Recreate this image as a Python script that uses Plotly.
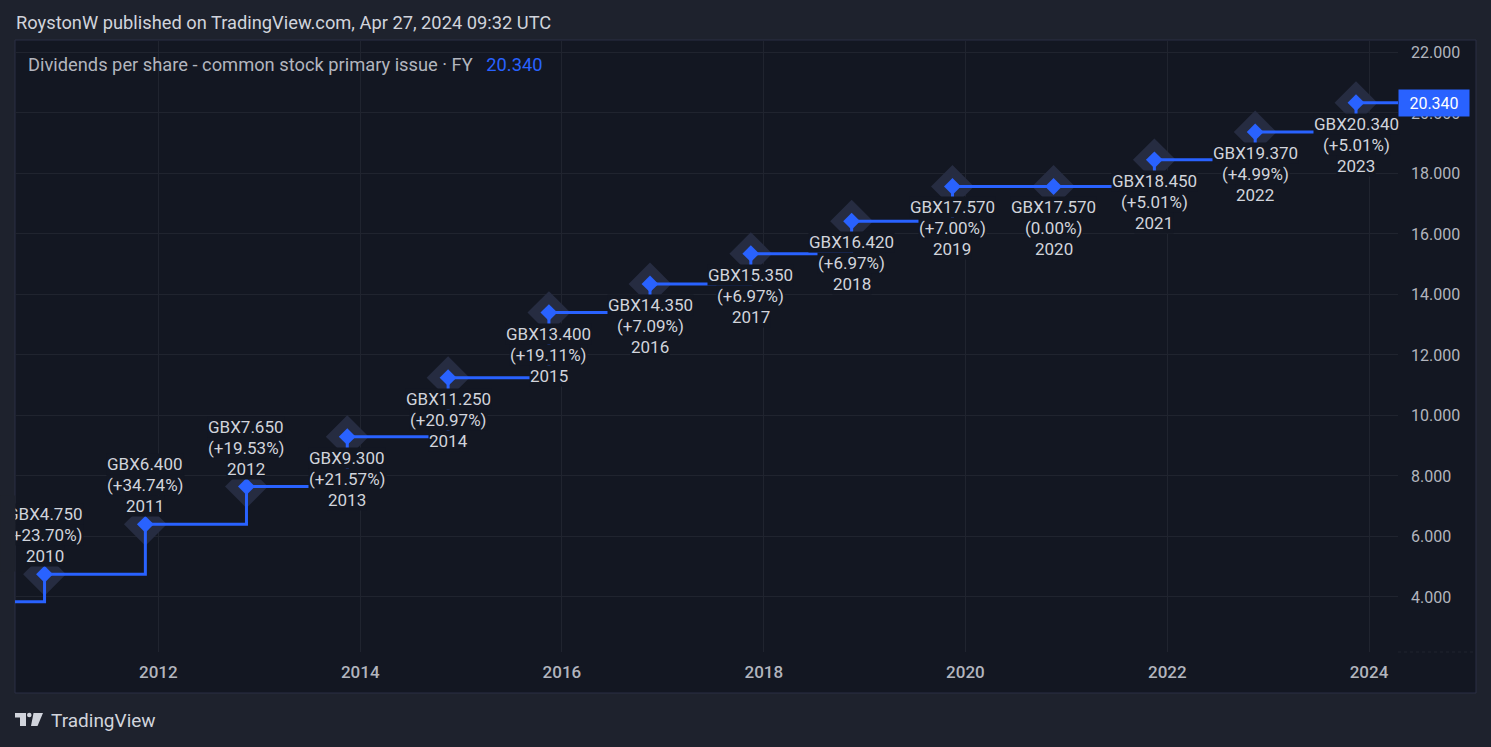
import plotly.graph_objects as go

# ── data ─────────────────────────────────────────────────────────────────────
FISCAL_YEARS = [2009, 2010, 2011, 2012, 2013, 2014, 2015, 2016,
                2017, 2018, 2019, 2020, 2021, 2022, 2023]
DPS = [3.84, 4.75, 6.40, 7.65, 9.30, 11.25, 13.40, 14.35,
       15.35, 16.42, 17.57, 17.57, 18.45, 19.37, 20.34]
PCT_CHANGE = [None, "+23.70%", "+34.74%", "+19.53%", "+21.57%", "+20.97%", "+19.11%",
              "+7.09%", "+6.97%", "+6.97%", "+7.00%", "0.00%", "+5.01%", "+4.99%", "+5.01%"]
Y_TICKS = [4, 6, 8, 10, 12, 14, 16, 18, 20, 22]
X_TICK_YEARS = [2012, 2014, 2016, 2018, 2020, 2022, 2024]
X_RANGE = ["2010-07-31", "2024-04-15"]
Y_RANGE = [2.18, 22.38]
LABEL_ABOVE = [2010, 2011, 2012]

# ── tokens ───────────────────────────────────────────────────────────────────
OUTER_BG = "#1e222d"
PANEL_BG = "#131722"
BORDER = "#2a2f45"
GRID = "#20242f"
BLUE = "#2962ff"
HALO = "#262c41"
TEXT = "#d1d4dc"
MUTED = "#b2b5be"
FONT = "Roboto, Noto Sans, sans-serif"

W, H = 1491, 747
L, T, R, B = 15, 41, 1398, 652  # plot area in pixels


def px_x(px):
    return (px - L) / (R - L)


def px_y(py):
    return (B - py) / (B - T)


dates = [f"{y}-11-15" for y in FISCAL_YEARS]
shown_dates = dates[1:]
shown_vals = DPS[1:]

fig = go.Figure()

# soft halo behind each point
fig.add_trace(go.Scatter(
    x=shown_dates, y=shown_vals, mode="markers",
    marker=dict(symbol="diamond", size=33, color=HALO, line_width=0),
    hoverinfo="skip", showlegend=False,
))

# step line, extended to the right edge with the latest value
fig.add_trace(go.Scatter(
    x=dates + [X_RANGE[1]], y=DPS + [DPS[-1]], mode="lines",
    line=dict(color=BLUE, width=3, shape="hv"),
    hoverinfo="skip", showlegend=False,
))

fig.add_trace(go.Scatter(
    x=shown_dates, y=shown_vals, mode="markers",
    marker=dict(symbol="diamond", size=13, color=BLUE, line_width=0),
    hoverinfo="skip", showlegend=False,
))

annotations = []
for fy, d, v, pct in zip(FISCAL_YEARS[1:], shown_dates, shown_vals, PCT_CHANGE[1:]):
    lines = [f"GBX{v:.3f}", f"({pct})", str(fy)]
    shifts = [60, 39, 18] if fy in LABEL_ABOVE else [-21, -42, -63]
    for txt, sh in zip(lines, shifts):
        annotations.append(dict(
            x=d, y=v, xref="x", yref="y", text=txt, showarrow=False,
            yshift=sh, xanchor="center", yanchor="middle",
            font=dict(family=FONT, size=17, color=TEXT),
            bgcolor=PANEL_BG, borderpad=0,
        ))

# clip the leftmost label at the panel edge
annotations.append(dict(
    x=px_x(0), y=px_y(495), xref="paper", yref="paper", text=" ", showarrow=False,
    xanchor="left", yanchor="top", width=14, height=75, bgcolor=OUTER_BG, borderpad=0,
))

# last value tag on the price axis
annotations.append(dict(
    x=1, y=DPS[-1], xref="paper", yref="y", text=f"{DPS[-1]:.3f}", showarrow=False,
    xanchor="left", yanchor="middle", width=64, height=20, borderpad=3,
    bgcolor=BLUE, font=dict(family=FONT, size=16, color="white"),
))

# header texts
annotations.append(dict(
    x=px_x(14), y=px_y(22), xref="paper", yref="paper", showarrow=False,
    xanchor="left", yanchor="middle",
    text="RoystonW published on TradingView.com, Apr 27, 2024 09:32 UTC",
    font=dict(family=FONT, size=18.3, color=TEXT),
))
annotations.append(dict(
    x=px_x(26), y=px_y(64), xref="paper", yref="paper", showarrow=False,
    xanchor="left", yanchor="middle",
    text=("Dividends per share - common stock primary issue · FY&nbsp;&nbsp;&nbsp;"
          f"<span style='color:{BLUE}'>{DPS[-1]:.3f}</span>"),
    font=dict(family=FONT, size=18.3, color=MUTED),
))
annotations.append(dict(
    x=px_x(49), y=px_y(720), xref="paper", yref="paper", showarrow=False,
    xanchor="left", yanchor="middle", text="TradingView",
    font=dict(family=FONT, size=19, color=TEXT),
))

shapes = [
    # chart panel
    dict(type="rect", xref="paper", yref="paper", layer="below",
         x0=px_x(15), x1=px_x(1476), y0=px_y(693), y1=px_y(40),
         fillcolor=PANEL_BG, line=dict(color=BORDER, width=1)),
    # separator under the price axis
    dict(type="line", xref="paper", yref="paper", x0=1, x1=px_x(1476),
         y0=0, y1=0, line=dict(color=GRID, width=1, dash="dot")),
    # logo
    dict(type="rect", xref="paper", yref="paper", x0=px_x(15), x1=px_x(26),
         y0=px_y(717.5), y1=px_y(713), fillcolor=TEXT, line_width=0),
    dict(type="rect", xref="paper", yref="paper", x0=px_x(20), x1=px_x(26),
         y0=px_y(726), y1=px_y(713), fillcolor=TEXT, line_width=0),
    dict(type="circle", xref="paper", yref="paper", x0=px_x(27), x1=px_x(31.6),
         y0=px_y(717.3), y1=px_y(712.7), fillcolor=TEXT, line_width=0),
    dict(type="path", xref="paper", yref="paper", fillcolor=TEXT, line_width=0,
         path=(f"M {px_x(33.5)} {px_y(713)} L {px_x(43)} {px_y(713)} "
               f"L {px_x(37.5)} {px_y(726)} L {px_x(31)} {px_y(726)} Z")),
]

fig.update_layout(
    width=W, height=H, autosize=False,
    paper_bgcolor=OUTER_BG, plot_bgcolor=PANEL_BG,
    margin=dict(l=L, r=W - R, t=T, b=H - B, pad=0),
    font=dict(family=FONT, color=MUTED),
    showlegend=False,
    annotations=annotations,
    shapes=shapes,
    xaxis=dict(
        type="date", range=X_RANGE,
        tickvals=[f"{y}-01-01" for y in X_TICK_YEARS], tickformat="%Y",
        showgrid=True, gridcolor=GRID, gridwidth=1,
        zeroline=False, showline=False, ticks="", ticklabelstandoff=8,
        tickfont=dict(family=FONT, size=17, color=MUTED, weight=500),
        fixedrange=True,
    ),
    yaxis=dict(
        side="right", range=Y_RANGE, tickvals=Y_TICKS, tickformat=".3f",
        showgrid=True, gridcolor=GRID, gridwidth=1,
        zeroline=False, showline=False, ticks="", ticklabelstandoff=12,
        tickfont=dict(family=FONT, size=16, color=MUTED),
        fixedrange=True,
    ),
)

fig.write_html(
    "out.html",
    config={"displayModeBar": False},
    post_script="document.body.style.margin='0px';",
)
